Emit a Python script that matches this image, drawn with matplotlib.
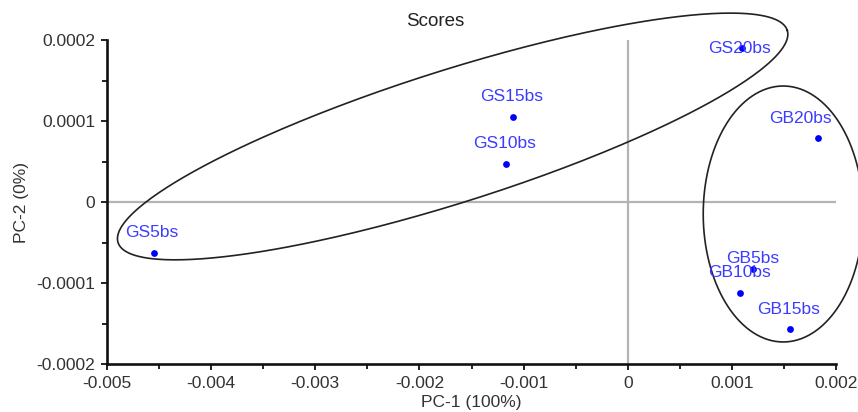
import numpy as np
import matplotlib
matplotlib.use("Agg")
import matplotlib.pyplot as plt

plt.rcParams['font.family'] = ['Liberation Sans', 'DejaVu Sans']

# ---- data ----
sample_names = ["GS5bs", "GS10bs", "GS15bs", "GS20bs", "GB5bs", "GB10bs", "GB15bs", "GB20bs"]
pc1_scores = [-0.004546, -0.001171, -0.001099, 0.001095, 0.001206, 0.001078, 0.001558, 0.001830]
pc2_scores = [-0.0000633, 0.0000469, 0.0001053, 0.0001898, -0.0000827, -0.0001120, -0.0001572, 0.0000786]
label_offsets_pt = [(-1.5, 15), (-1, 15), (-1, 14.5), (-1.5, 0), (-0.7, 7.2), (-0.7, 14.5), (-0.7, 14.5), (-13, 14.5)]

# ellipses: centre and two conjugate semi-diameter vectors (data units)
ell_centers = [(-0.001681, 0.0000809), (0.001493, -0.0000148)]
ell_u = [(0.003213, 0.0001310), (0.000768, 0.0)]
ell_v = [(-0.0001916, 0.0000777), (0.0, 0.000158)]

xticks = [-0.005, -0.004, -0.003, -0.002, -0.001, 0, 0.001, 0.002]
xtick_labels = ["-0.005", "-0.004", "-0.003", "-0.002", "-0.001", "0", "0.001", "0.002"]
yticks = [-0.0002, -0.0001, 0, 0.0001, 0.0002]
ytick_labels = ["-0.0002", "-0.0001", "0", "0.0001", "0.0002"]

W, H = 858, 412
fig = plt.figure(figsize=(W / 100, H / 100), dpi=100)
ax = fig.add_axes([107 / W, 1 - 364 / H, (836 - 107) / W, (364 - 40) / H])

ax.set_xlim(-0.005, 0.002)
ax.set_ylim(-0.0002, 0.0002)

ax.axhline(0, color="#b4b4b4", lw=1.6, zorder=1)
ax.axvline(0, color="#b4b4b4", lw=1.6, zorder=1)

t = np.linspace(0, 2 * np.pi, 400)
for c, u, v in zip(ell_centers, ell_u, ell_v):
    ex = c[0] + u[0] * np.cos(t) + v[0] * np.sin(t)
    ey = c[1] + u[1] * np.cos(t) + v[1] * np.sin(t)
    ax.plot(ex, ey, color="#222222", lw=1.2, clip_on=False, zorder=2)

ax.scatter(pc1_scores, pc2_scores, s=24, color="#0000ff", zorder=4, linewidths=0)
for name, x, y, off in zip(sample_names, pc1_scores, pc2_scores, label_offsets_pt):
    ax.annotate(name, (x, y), xytext=off, textcoords="offset points",
                ha="center", va="center", fontsize=12.5, color="#3c3cff", zorder=5,
                annotation_clip=False)

for s in ["top", "right"]:
    ax.spines[s].set_visible(False)
for s in ["left", "bottom"]:
    ax.spines[s].set_linewidth(1.9)
    ax.spines[s].set_color("#111111")

ax.set_xticks(xticks)
ax.set_xticklabels(xtick_labels)
ax.set_yticks(yticks)
ax.set_yticklabels(ytick_labels)
ax.set_xticks([-0.0045, -0.0035, -0.0025, -0.0015, -0.0005, 0.0005, 0.0015], minor=True)
ax.set_yticks([-0.00015, -0.00005, 0.00005, 0.00015], minor=True)
ax.tick_params(which="major", direction="out", length=4, width=1.3, labelsize=12.5,
               colors="#111111", labelcolor="#333333", pad=4.5)
ax.tick_params(which="minor", direction="out", length=3.5, width=1.3, colors="#111111")

ax.set_xlabel("PC-1 (100%)", fontsize=12.5, color="#333333")
ax.set_ylabel("PC-2 (0%)", fontsize=12.5, color="#333333")
ax.xaxis.set_label_coords(0.5, (364 - 403) / 324, transform=ax.transAxes)
ax.yaxis.set_label_coords((22 - 107) / 729, 0.5, transform=ax.transAxes)
ax.xaxis.label.set_va("center")
ax.yaxis.label.set_va("center")
fig.text(435 / W, 1 - 22 / H, "Scores", ha="center", va="center", fontsize=13.5, color="#222222")

fig.savefig("out.png", dpi=100)
